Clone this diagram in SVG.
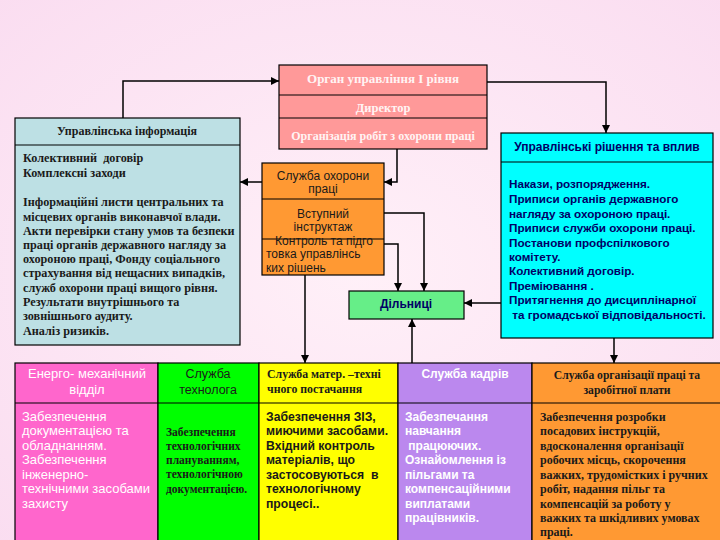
<svg xmlns="http://www.w3.org/2000/svg" width="720" height="540" viewBox="0 0 720 540">
<defs>
<radialGradient id="bg" cx="50%" cy="50%" r="75%">
<stop offset="0" stop-color="#fff0f8"/>
<stop offset="1" stop-color="#fadcf0"/>
</radialGradient>
<marker id="ah" viewBox="0 0 10 10" refX="10" refY="5" markerWidth="8" markerHeight="8" markerUnits="userSpaceOnUse" orient="auto">
<path d="M0,0 L10,5 L0,10 z" fill="#000"/>
</marker>
<style>
.box{stroke:#000;stroke-width:1.2}
.div{stroke:#000;stroke-width:1.2}
.con{fill:none;stroke:#000;stroke-width:1.5;marker-end:url(#ah)}
.serif{font-family:"Liberation Serif","DejaVu Serif",serif;font-weight:bold}
.sans{font-family:"Liberation Sans",Arial,sans-serif;font-weight:bold}
.mid{text-anchor:middle}
.dk{fill:#1a1a1a}
.wh{fill:#ffffff}
.nv{fill:#000066}
</style>
</defs>
<rect x="0" y="0" width="720" height="540" fill="url(#bg)"/>

<g id="organ">
<rect class="box" x="279" y="65" width="208" height="84" fill="#ff9999"/>
<line class="div" x1="279" y1="95" x2="487" y2="95"/>
<line class="div" x1="279" y1="118" x2="487" y2="118"/>
<text class="serif mid" x="383" y="83" font-size="13" fill="#fff4f4">Орган управління І рівня</text>
<text class="serif mid" x="383" y="112" font-size="12.5" fill="#fff4f4">Директор</text>
<text class="serif mid" x="383" y="140" font-size="12" fill="#fff4f4">Організація робіт з охорони праці</text>
</g>

<g id="info">
<rect class="box" x="15" y="118" width="225" height="227" fill="#bde0e4"/>
<line class="div" x1="15" y1="145" x2="240" y2="145"/>
<text class="serif mid dk" x="127" y="135" font-size="12">Управлінська інформація</text>
<g class="serif dk" font-size="12.2">
<text x="23" y="162" xml:space="preserve">Колективний  договір</text>
<text x="23" y="177">Комплексні заходи</text>
<text x="23" y="206">Інформаційні листи центральних та</text>
<text x="23" y="221">місцевих органів виконавчої влади.</text>
<text x="23" y="235">Акти перевірки стану умов та безпеки</text>
<text x="23" y="249">праці органів державного нагляду за</text>
<text x="23" y="263">охороною праці, Фонду соціального</text>
<text x="23" y="277">страхування від нещасних випадків,</text>
<text x="23" y="292">служб охорони праці вищого рівня.</text>
<text x="23" y="306">Результати внутрішнього та</text>
<text x="23" y="320">зовнішнього аудиту.</text>
<text x="23" y="335">Аналіз ризиків.</text>
</g>
</g>

<g id="sluzhba">
<rect class="box" x="262" y="163" width="122" height="112" fill="#ff9933"/>
<line class="div" x1="262" y1="199" x2="384" y2="199"/>
<line class="div" x1="262" y1="239" x2="384" y2="239"/>
<g font-family="Liberation Sans,Arial,sans-serif" font-size="12" fill="#1a1a1a">
<text class="mid" x="323" y="180">Служба охорони</text>
<text class="mid" x="323" y="193">праці</text>
<text class="mid" x="323" y="218">Вступний</text>
<text class="mid" x="323" y="231">інструктаж</text>
<text class="mid" x="324" y="245">Контроль та підго</text>
<text x="266" y="258">товка управлінсь</text>
<text x="266" y="272">ких рішень</text>
</g>
</g>

<g id="rishennia">
<rect class="box" x="501" y="133" width="212" height="205" fill="#00ffff"/>
<line class="div" x1="501" y1="162" x2="713" y2="162"/>
<text class="sans mid nv" x="607" y="151" font-size="12">Управлінські рішення та вплив</text>
<g class="sans nv" font-size="11.7">
<text x="509" y="188">Накази, розпорядження.</text>
<text x="509" y="203">Приписи органів державного</text>
<text x="509" y="218">нагляду за охороною праці.</text>
<text x="509" y="232">Приписи служби охорони праці.</text>
<text x="509" y="247">Постанови профспілкового</text>
<text x="509" y="261">комітету.</text>
<text x="509" y="275">Колективний договір.</text>
<text x="509" y="290">Преміювання .</text>
<text x="509" y="304">Притягнення до дисциплінарної</text>
<text x="509" y="319" xml:space="preserve"> та громадської відповідальності.</text>
</g>
</g>

<g id="dilnytsi">
<rect class="box" x="349" y="291" width="115" height="28" fill="#66ee88"/>
<text class="sans mid nv" x="406" y="308" font-size="12">Дільниці</text>
</g>

<g id="energo">
<rect class="box" x="15" y="363" width="143" height="190" fill="#ff66cc"/>
<line class="div" x1="15" y1="403" x2="158" y2="403"/>
<g font-family="Liberation Sans,Arial,sans-serif" font-size="13" fill="#ffffff">
<text class="mid" x="87" y="378">Енерго- механічний</text>
<text class="mid" x="87" y="394">відділ</text>
<text x="22" y="421">Забезпечення</text>
<text x="22" y="435">документацією та</text>
<text x="22" y="450">обладнанням.</text>
<text x="22" y="464">Забезпечення</text>
<text x="22" y="479">інженерно-</text>
<text x="22" y="493">технічними засобами</text>
<text x="22" y="508">захисту</text>
</g>
</g>

<g id="tekhnolog">
<rect class="box" x="158" y="363" width="101" height="190" fill="#00ff00"/>
<line class="div" x1="158" y1="403" x2="259" y2="403"/>
<g font-family="Liberation Sans,Arial,sans-serif" font-size="12.5" fill="#1a1a1a">
<text class="mid" x="208" y="378">Служба</text>
<text class="mid" x="208" y="394">технолога</text>
</g>
<g class="serif dk" font-size="11.5">
<text x="166" y="436">Забезпечення</text>
<text x="166" y="450">технологічних</text>
<text x="166" y="464">плануванням,</text>
<text x="166" y="478">технологічною</text>
<text x="166" y="493">документацією.</text>
</g>
</g>

<g id="postachannia">
<rect class="box" x="259" y="363" width="139" height="190" fill="#ffff00"/>
<line class="div" x1="259" y1="403" x2="398" y2="403"/>
<text class="serif dk" x="267" y="378" font-size="11.8">Служба матер. –техні</text>
<text class="serif dk" x="267" y="393" font-size="11.8">чного постачання</text>
<g class="sans dk" font-size="12.2">
<text x="266" y="421">Забезпечення ЗІЗ,</text>
<text x="266" y="435">миючими засобами.</text>
<text x="266" y="450">Вхідний контроль</text>
<text x="266" y="464">матеріалів, що</text>
<text x="266" y="479" xml:space="preserve">застосовуються  в</text>
<text x="266" y="493">технологічному</text>
<text x="266" y="508">процесі..</text>
</g>
</g>

<g id="kadry">
<rect class="box" x="398" y="363" width="134" height="190" fill="#bb88ee"/>
<line class="div" x1="398" y1="403" x2="532" y2="403"/>
<text class="sans mid wh" x="465" y="378" font-size="12" font-weight="normal">Служба кадрів</text>
<g class="sans wh" font-size="12">
<text x="405" y="421">Забезпечання</text>
<text x="405" y="435">навчання</text>
<text x="405" y="450" xml:space="preserve"> працюючих.</text>
<text x="405" y="464">Ознайомлення із</text>
<text x="405" y="479">пільгами та</text>
<text x="405" y="493">компенсаційними</text>
<text x="405" y="508">виплатами</text>
<text x="405" y="522">працівників.</text>
</g>
</g>

<g id="orgpratsi">
<rect class="box" x="532" y="363" width="195" height="190" fill="#ff9933"/>
<line class="div" x1="532" y1="403" x2="727" y2="403"/>
<text class="serif mid dk" x="627" y="379" font-size="11.6">Служба організації праці та</text>
<text class="serif mid dk" x="627" y="394" font-size="11.6">заробітної плати</text>
<g class="serif dk" font-size="12">
<text x="540" y="421">Забезпечення розробки</text>
<text x="540" y="435">посадових інструкцій,</text>
<text x="540" y="450">вдосконалення організації</text>
<text x="540" y="464">робочих місць, скорочення</text>
<text x="540" y="479">важких, трудомістких і ручних</text>
<text x="540" y="493">робіт, надання пільг та</text>
<text x="540" y="508">компенсацій за роботу у</text>
<text x="540" y="522">важких та шкідливих умовах</text>
<text x="540" y="536">праці.</text>
</g>
</g>

<g id="connectors">
<path class="con" d="M123,118 V81 H279"/>
<path class="con" d="M487,82 H606 V133"/>
<path class="con" d="M397,149 V182 H384"/>
<path class="con" d="M262,182 H240"/>
<path class="con" d="M384,213 H424 V291"/>
<path class="con" d="M384,244 H398 V291"/>
<path class="con" d="M501,303 H464"/>
<path class="con" d="M412,363 V319"/>
<path class="con" d="M305,275 V363"/>
<path class="con" d="M614,338 V363"/>
</g>
</svg>
